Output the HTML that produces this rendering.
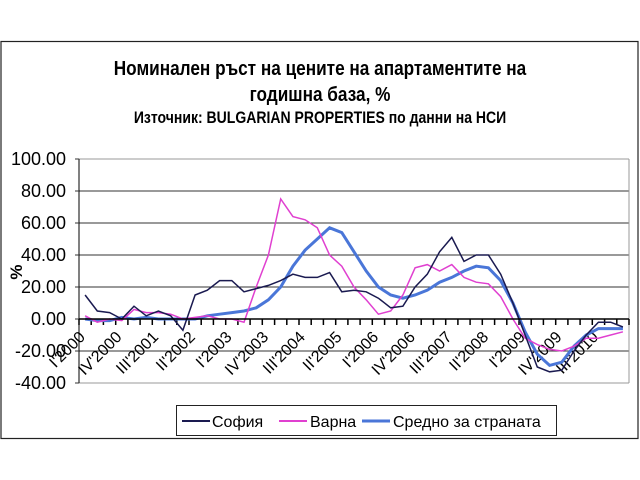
<!DOCTYPE html>
<html><head><meta charset="utf-8"><style>
body{margin:0;background:#fff;}
svg{display:block;font-family:"Liberation Sans",Arial,sans-serif;}
</style></head><body>
<svg width="640" height="480" viewBox="0 0 640 480" xmlns="http://www.w3.org/2000/svg">
<rect x="0" y="0" width="640" height="480" fill="#fff"/>
<rect x="1" y="41.5" width="637" height="397" fill="#fff" stroke="#222" stroke-width="1.2"/>
<text x="320" y="75" text-anchor="middle" font-size="20" font-weight="bold" transform="scale(0.86,1) translate(52.1,0)">Номинален ръст на цените на апартаментите на</text>
<text x="320" y="101" text-anchor="middle" font-size="20" font-weight="bold" transform="scale(0.86,1) translate(52.1,0)">годишна база, %</text>
<text x="320" y="123" text-anchor="middle" font-size="16.5" font-weight="bold" transform="scale(0.85,1) translate(56.5,0)">Източник: BULGARIAN PROPERTIES по данни на НСИ</text>
<g stroke="#333" stroke-width="1">
<line x1="79" y1="159" x2="629" y2="159" stroke="#999"/>
<line x1="79" y1="191" x2="629" y2="191"/>
<line x1="79" y1="223" x2="629" y2="223"/>
<line x1="79" y1="255" x2="629" y2="255"/>
<line x1="79" y1="287" x2="629" y2="287"/>
<line x1="79" y1="351" x2="629" y2="351"/>
<line x1="79" y1="383" x2="629" y2="383" stroke="#999"/>
<line x1="629" y1="159" x2="629" y2="383" stroke="#999"/>
<line x1="79" y1="159" x2="79" y2="383" stroke="#000"/>
<path d="M75 159h4M75 191h4M75 223h4M75 255h4M75 287h4M75 319h4M75 351h4M75 383h4"/>
</g>
<g font-size="18" text-anchor="end" fill="#000">
<text x="66" y="165">100.00</text><text x="66" y="197">80.00</text><text x="66" y="229">60.00</text><text x="66" y="261">40.00</text><text x="66" y="293">20.00</text><text x="66" y="325">0.00</text><text x="66" y="357">-20.00</text><text x="66" y="389">-40.00</text>
</g>
<text x="0" y="0" font-size="17" font-weight="bold" text-anchor="middle" transform="translate(22,272) rotate(-90)">%</text>
<path stroke="#000" stroke-width="1.5" d="M79 319v6M91.2 319v6M103.4 319v6M115.7 319v6M127.9 319v6M140.1 319v6M152.3 319v6M164.6 319v6M176.8 319v6M189 319v6M201.2 319v6M213.4 319v6M225.7 319v6M237.9 319v6M250.1 319v6M262.3 319v6M274.6 319v6M286.8 319v6M299 319v6M311.2 319v6M323.4 319v6M335.7 319v6M347.9 319v6M360.1 319v6M372.3 319v6M384.6 319v6M396.8 319v6M409 319v6M421.2 319v6M433.4 319v6M445.7 319v6M457.9 319v6M470.1 319v6M482.3 319v6M494.6 319v6M506.8 319v6M519 319v6M531.2 319v6M543.4 319v6M555.7 319v6M567.9 319v6M580.1 319v6M592.3 319v6M604.6 319v6M616.8 319v6M629 319v6"/>
<g font-size="16" text-anchor="end">
<text transform="translate(86,338) rotate(-45)">I'2000</text>
<text transform="translate(122.7,338) rotate(-45)">IV'2000</text>
<text transform="translate(159.3,338) rotate(-45)">III'2001</text>
<text transform="translate(196,338) rotate(-45)">II'2002</text>
<text transform="translate(232.7,338) rotate(-45)">I'2003</text>
<text transform="translate(269.3,338) rotate(-45)">IV'2003</text>
<text transform="translate(306,338) rotate(-45)">III'2004</text>
<text transform="translate(342.7,338) rotate(-45)">II'2005</text>
<text transform="translate(379.3,338) rotate(-45)">I'2006</text>
<text transform="translate(416,338) rotate(-45)">IV'2006</text>
<text transform="translate(452.7,338) rotate(-45)">III'2007</text>
<text transform="translate(489.3,338) rotate(-45)">II'2008</text>
<text transform="translate(526,338) rotate(-45)">I'2009</text>
<text transform="translate(562.7,338) rotate(-45)">IV'2009</text>
<text transform="translate(599.3,338) rotate(-45)">III'2010</text>
</g>
<polyline fill="none" stroke="#4a76d8" stroke-width="3" points="85.1,319 97.3,320.6 109.6,320.6 121.8,317.4 134,319 146.2,317.4 158.4,319 170.7,319 182.9,319 195.1,319 207.3,315.8 219.6,314.2 231.8,312.6 244,311 256.2,307.8 268.4,299.8 280.7,287 292.9,266.2 305.1,250.2 317.3,239 329.6,227.8 341.8,232.6 354,251.8 366.2,271 378.4,287 390.7,295 402.9,298.2 415.1,295 427.3,290.2 439.6,282.2 451.8,277.4 464,271 476.2,266.2 488.4,267.8 500.7,280.6 512.9,303 525.1,331.8 537.3,354.2 549.6,365.4 561.8,362.2 574,346.2 586.2,335 598.4,328.6 610.7,328.6 622.9,328.6"/>
<polyline fill="none" stroke="#e040d0" stroke-width="1.5" points="85.1,315.8 97.3,322.2 109.6,319 121.8,320.6 134,309.4 146.2,312.6 158.4,312.6 170.7,314.2 182.9,319 195.1,317.4 207.3,315.8 219.6,319 231.8,319 244,322.2 256.2,287 268.4,255 280.7,199 292.9,216.6 305.1,219.8 317.3,227.8 329.6,255 341.8,266.2 354,287 366.2,299.8 378.4,314.2 390.7,311 402.9,295 415.1,267.8 427.3,264.6 439.6,271 451.8,264.6 464,277.4 476.2,282.2 488.4,283.8 500.7,296.6 512.9,319 525.1,338.2 537.3,344.6 549.6,349.4 561.8,351 574,346.2 586.2,338.2 598.4,338.2 610.7,335 622.9,331.8"/>
<polyline fill="none" stroke="#1a1a50" stroke-width="1.5" points="85.1,295 97.3,311 109.6,312.6 121.8,319 134,306.2 146.2,315.8 158.4,311 170.7,315.8 182.9,330.2 195.1,295 207.3,290.2 219.6,280.6 231.8,280.6 244,291.8 256.2,288.6 268.4,285.4 280.7,280.6 292.9,274.2 305.1,277.4 317.3,277.4 329.6,272.6 341.8,291.8 354,290.2 366.2,291.8 378.4,298.2 390.7,307.8 402.9,306.2 415.1,287 427.3,274.2 439.6,251.8 451.8,237.4 464,261.4 476.2,255 488.4,255 500.7,274.2 512.9,303 525.1,335 537.3,367 549.6,371.8 561.8,370.2 574,351 586.2,335 598.4,322.2 610.7,322.2 622.9,327"/>
<line x1="79" y1="319" x2="629" y2="319" stroke="#000" stroke-width="1.5"/>
<rect x="176.5" y="405.5" width="380" height="30" fill="#fff" stroke="#222"/>
<line x1="182" y1="421" x2="210" y2="421" stroke="#1a1a50" stroke-width="2"/>
<text x="212" y="427" font-size="16">София</text>
<line x1="279" y1="421" x2="307" y2="421" stroke="#e040d0" stroke-width="2"/>
<text x="310" y="427" font-size="16">Варна</text>
<line x1="362" y1="421" x2="390" y2="421" stroke="#4a76d8" stroke-width="3"/>
<text x="393" y="427" font-size="16">Средно за страната</text>
</svg>
</body></html>
